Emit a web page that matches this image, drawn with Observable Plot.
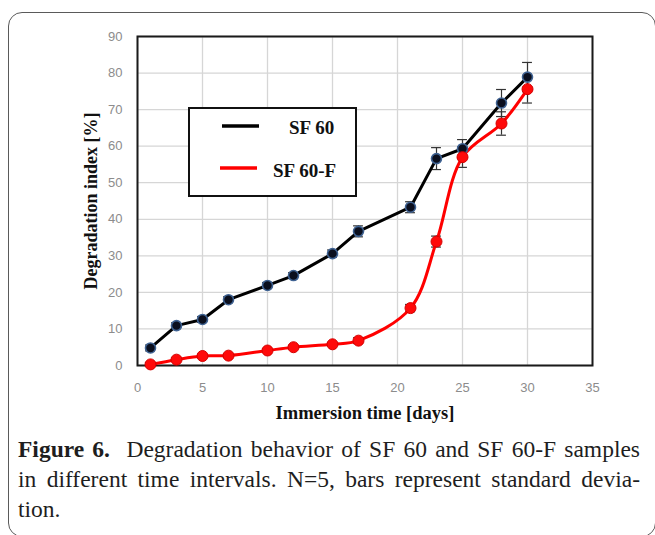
<!DOCTYPE html>
<html>
<head>
<meta charset="utf-8">
<script src="https://cdn.jsdelivr.net/npm/d3@7"></script>
<script src="https://cdn.jsdelivr.net/npm/@observablehq/plot@0.6"></script>
<style>
  html, body { margin: 0; padding: 0; background: #fff; }
  #fig { position: relative; width: 655px; height: 535px; overflow: hidden; }
  #border { position: absolute; left: 8px; top: 12px; width: 648px; height: 525px;
            border: 1.3px solid #5a5a5a; border-radius: 14px; box-sizing: border-box; }
  #chart { position: absolute; left: 0; top: 0; }
  #legend { position: absolute; left: 188px; top: 107px; width: 169px; height: 90px;
            box-sizing: border-box; border: 2px solid #111; background: #fff; }
  #legend svg { position: absolute; left: 0; top: 0; }
  #caption { position: absolute; left: 18px; top: 434px; width: 622px;
             font-family: "Liberation Serif", "DejaVu Serif", serif; font-size: 23.5px; color: #1e1e1e; }
  #caption div { height: 30px; line-height: 30px; white-space: nowrap; }
  #caption span { display: inline-block; white-space: nowrap; }
</style>
</head>
<body>
<div id="fig">
  <div id="border"></div>
  <div id="chart"></div>
  <div id="legend"></div>
  <div id="caption"></div>
</div>
<script>
// Immersion time in days
const days = [1, 3, 5, 7, 10, 12, 15, 17, 21, 23, 25, 28, 30];
// Degradation index [%] and standard deviation, SF 60
const sf60 = [4.8, 10.9, 12.6, 18.0, 21.9, 24.6, 30.6, 36.7, 43.3, 56.6, 59.3, 71.8, 78.9];
const sf60Sd = [0.8, 0.8, 0.8, 0.8, 0.8, 0.8, 1.0, 1.5, 1.5, 3.0, 2.5, 3.7, 4.0];
// Degradation index [%] and standard deviation, SF 60-F
const sf60F = [0.3, 1.6, 2.6, 2.7, 4.1, 5.0, 5.8, 6.8, 15.7, 33.9, 57.0, 66.2, 75.6];
const sf60FSd = [0.5, 0.5, 0.5, 0.5, 0.5, 0.5, 0.5, 0.8, 1.0, 1.5, 2.8, 3.2, 3.8];

const xTicks = [0, 5, 10, 15, 20, 25, 30, 35];
const yTicks = [0, 10, 20, 30, 40, 50, 60, 70, 80, 90];
const seriesNames = ["SF 60", "SF 60-F"];
const xTitle = "Immersion time [days]";
const yTitle = "Degradation index [%]";

const rows = (vals, sds, name) => days.map((d, i) => ({ day: d, value: vals[i], sd: sds[i], series: name }));
const black = rows(sf60, sf60Sd, seriesNames[0]);
const red = rows(sf60F, sf60FSd, seriesNames[1]);
const all = black.concat(red);

const capHalf = 0.38; // half cap width, in days

const titleFont = '"Liberation Serif", "DejaVu Serif", serif';

const chart = Plot.plot({
  width: 655,
  height: 430,
  marginLeft: 137,
  marginRight: 63,
  marginTop: 36,
  marginBottom: 65,
  style: { fontFamily: '"Liberation Sans", Arial, sans-serif', fontSize: "13px", color: "#8c8c8c", background: "transparent" },
  x: { domain: [0, 35] },
  y: { domain: [0, 90] },
  marks: [
    Plot.gridX(xTicks, { stroke: "#d6d6d6", strokeOpacity: 1, strokeWidth: 1.3 }),
    Plot.gridY(yTicks, { stroke: "#d6d6d6", strokeOpacity: 1, strokeWidth: 1.3 }),
    Plot.axisX(xTicks, { tickSize: 0, tickPadding: 17, label: null, fill: "#8c8c8c" }),
    Plot.axisY(yTicks, { tickSize: 0, tickPadding: 15, label: null, fill: "#8c8c8c" }),
    Plot.frame({ stroke: "#1a1a1a", strokeWidth: 2 }),
    // error bars
    Plot.ruleX(all, { x: "day", y1: d => d.value - d.sd, y2: d => d.value + d.sd, stroke: "#333", strokeWidth: 1.2 }),
    Plot.ruleY(all, { y: d => d.value + d.sd, x1: d => d.day - capHalf, x2: d => d.day + capHalf, stroke: "#333", strokeWidth: 1.2 }),
    Plot.ruleY(all, { y: d => d.value - d.sd, x1: d => d.day - capHalf, x2: d => d.day + capHalf, stroke: "#333", strokeWidth: 1.2 }),
    // series lines
    Plot.line(black, { x: "day", y: "value", stroke: "#000", strokeWidth: 3 }),
    Plot.line(red, { x: "day", y: "value", stroke: "#ff0000", strokeWidth: 3, curve: "catmull-rom" }),
    // markers
    Plot.dot(black, { x: "day", y: "value", r: 5, fill: "#0b0f1e", stroke: "#3f6292", strokeWidth: 1.6 }),
    Plot.dot(red, { x: "day", y: "value", r: 5.5, fill: "#ff0a0a", stroke: "#d40000", strokeWidth: 1 }),
    // axis titles
    Plot.text([xTitle], { frameAnchor: "bottom", dy: 48, text: d => d, textAnchor: "middle", fontFamily: titleFont, fontWeight: "bold", fontSize: 18.5, fill: "#111", lineAnchor: "middle" }),
    Plot.text([yTitle], { frameAnchor: "left", dx: -46, rotate: -90, text: d => d, textAnchor: "middle", fontFamily: titleFont, fontWeight: "bold", fontSize: 18, fill: "#111", lineAnchor: "middle" })
  ]
});
document.getElementById("chart").appendChild(chart);

// legend box
const legend = document.getElementById("legend");
const ns = "http://www.w3.org/2000/svg";
const lsvg = document.createElementNS(ns, "svg");
lsvg.setAttribute("width", 165);
lsvg.setAttribute("height", 86);
const legendItems = [
  { name: seriesNames[0], color: "#000", x1: 32, x2: 69, ly: 17, tx: 99, ty: 25 },
  { name: seriesNames[1], color: "#ff0000", x1: 30, x2: 67, ly: 59, tx: 83, ty: 68 }
];
for (const it of legendItems) {
  const ln = document.createElementNS(ns, "line");
  ln.setAttribute("x1", it.x1); ln.setAttribute("x2", it.x2);
  ln.setAttribute("y1", it.ly); ln.setAttribute("y2", it.ly);
  ln.setAttribute("stroke", it.color); ln.setAttribute("stroke-width", 3.5);
  lsvg.appendChild(ln);
  const tx = document.createElementNS(ns, "text");
  tx.setAttribute("x", it.tx); tx.setAttribute("y", it.ty);
  tx.setAttribute("font-family", titleFont);
  tx.setAttribute("font-weight", "bold");
  tx.setAttribute("font-size", 19);
  tx.setAttribute("fill", "#111");
  tx.textContent = it.name;
  lsvg.appendChild(tx);
}
legend.appendChild(lsvg);

// figure caption: justified lines, spread by adjusting word spacing
const captionLines = [
  ['<b>Figure 6.</b>&nbsp; Degradation behavior of SF 60 and SF 60-F samples', true],
  ['in different time intervals. N=5, bars represent standard devia-', true],
  ['tion.', false]
];
const caption = document.getElementById("caption");
const columnWidth = 622;
for (const [html, justify] of captionLines) {
  const row = document.createElement("div");
  const span = document.createElement("span");
  span.innerHTML = html;
  row.appendChild(span);
  caption.appendChild(row);
  if (justify) {
    const gaps = (span.textContent.match(/[ \u00a0]/g) || []).length;
    const w = span.getBoundingClientRect().width;
    if (gaps > 0) span.style.wordSpacing = ((columnWidth - w) / gaps) + "px";
  }
}
</script>
</body>
</html>
